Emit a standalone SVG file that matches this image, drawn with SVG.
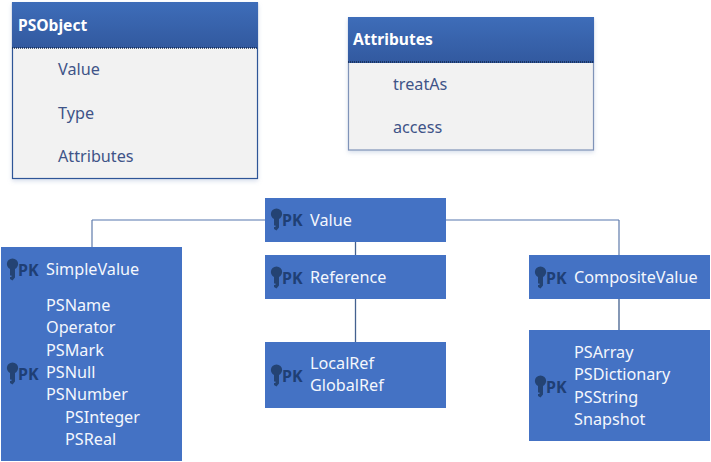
<svg xmlns="http://www.w3.org/2000/svg" width="711" height="462" viewBox="0 0 711 462">
<style>
text{font-family:"Noto Sans","Open Sans","Liberation Sans",sans-serif;font-size:16.200px}
.w{fill:#f4f7fd}.d{fill:#3f5488}.h{fill:#fff;font-weight:700;font-size:15.600px}
.pk{fill:#1f3f75;font-weight:700;font-size:16px}
.b{fill:#4472c4}.body{fill:#f2f2f2;stroke-width:1.200;filter:url(#s)}.head{fill:url(#g)}
.c{fill:none;stroke:#8ea3c9;stroke-width:1.500}.v{fill:none;stroke:#5f7bab;stroke-width:1.200}.c2{fill:none;stroke:#44618f;stroke-width:1.300}
.sep{stroke:#14284d;stroke-width:1.500;stroke-dasharray:1 1}
</style>
<defs>
<linearGradient id="g" x1="0" y1="0" x2="0" y2="1"><stop offset="0" stop-color="#3e6db9"/><stop offset="1" stop-color="#32599f"/></linearGradient>
<filter id="s" x="-5%" y="-5%" width="110%" height="112%"><feDropShadow dx="0" dy="2" stdDeviation="2" flood-color="#8ea3c9" flood-opacity="0.35"/></filter>
<g id="pk"><circle cx="5.500" cy="6" r="5.600" fill="#244373"/><path d="M3 9h5v10.500l-2.500 3-2.500-1.500v-2h1.500v-1.500h-1.500z" fill="#244373"/><text class="pk" x="11" y="18">PK</text></g>
</defs>
<g id="connectors">
<path class="c" d="M265 220H92"/><path class="v" d="M92 220V247"/><path class="c" d="M446 220H619"/><path class="v" d="M619 220V255"/>
<path class="c2" d="M355.500 242V255M355.500 299V342M619 299V330"/>
</g>
<g id="PSObject"><rect class="body" stroke="#2f5597" x="12.500" y="3" width="245" height="175.500"/><rect class="head" x="12" y="2" width="246" height="46"/><path class="sep" d="M12 48H258"/>
<text class="h" x="18" y="31">PSObject</text><text class="d" x="58" y="75">Value</text><text class="d" x="58" y="119">Type</text><text class="d" x="58" y="162">Attributes</text></g>
<g id="Attributes"><rect class="body" stroke="#7f93b8" x="348.500" y="18" width="245" height="132"/><rect class="head" x="348" y="17" width="246" height="46"/><path class="sep" d="M348 62H594"/>
<text class="h" x="353" y="45">Attributes</text><text class="d" x="393" y="90">treatAs</text><text class="d" x="393" y="133">access</text></g>
<g id="Value"><rect class="b" x="265" y="198" width="181" height="44"/><use href="#pk" x="271" y="208"/><text class="w" x="310" y="226">Value</text></g>
<g id="SimpleValue"><rect class="b" x="1" y="247" width="181" height="214"/><use href="#pk" x="7" y="258"/><use href="#pk" x="7" y="362"/>
<text class="w" x="46" y="275">SimpleValue</text><text class="w" x="46" y="311">PSName</text><text class="w" x="46" y="333">Operator</text><text class="w" x="46" y="356">PSMark</text><text class="w" x="46" y="378">PSNull</text><text class="w" x="46" y="400">PSNumber</text><text class="w" x="65" y="423">PSInteger</text><text class="w" x="65" y="445">PSReal</text></g>
<g id="Reference"><rect class="b" x="265" y="255" width="181" height="44"/><use href="#pk" x="271" y="266"/><text class="w" x="310" y="283">Reference</text></g>
<g id="LocalRef"><rect class="b" x="265" y="342" width="181" height="66"/><use href="#pk" x="271" y="364"/><text class="w" x="310" y="369">LocalRef</text><text class="w" x="310" y="391">GlobalRef</text></g>
<g id="CompositeValue"><rect class="b" x="529" y="255" width="181" height="44"/><use href="#pk" x="535" y="266"/><text class="w" x="574" y="283">CompositeValue</text></g>
<g id="PSArray"><rect class="b" x="529" y="330" width="181" height="111"/><use href="#pk" x="535" y="375"/><text class="w" x="574" y="358">PSArray</text><text class="w" x="574" y="380">PSDictionary</text><text class="w" x="574" y="403">PSString</text><text class="w" x="574" y="425">Snapshot</text></g>
</svg>
